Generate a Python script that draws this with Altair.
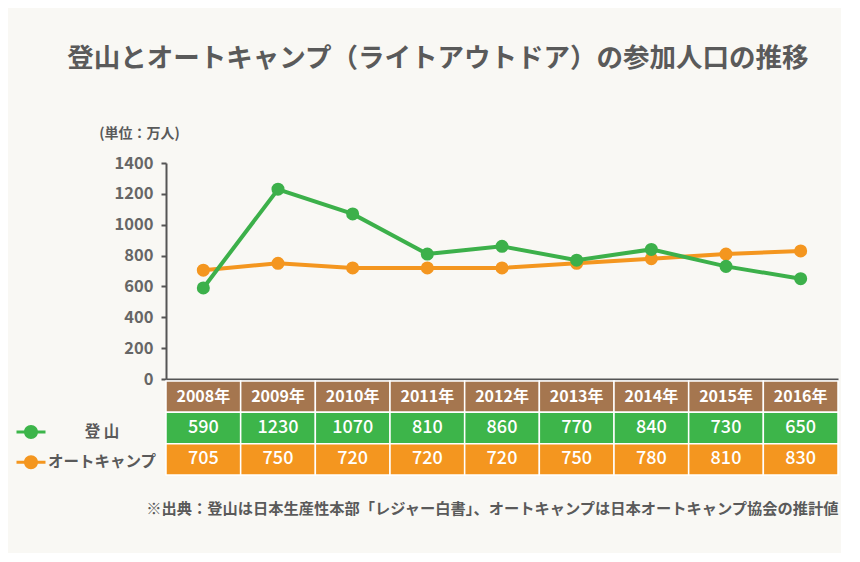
import altair as alt
import pandas as pd

years = ["2008", "2009", "2010", "2011", "2012", "2013", "2014", "2015", "2016"]
tozan = [590, 1230, 1070, 810, 860, 770, 840, 730, 650]
autocamp = [705, 750, 720, 720, 720, 750, 780, 810, 830]
series_names = ["登山", "オートキャンプ"]
y_ticks = [0, 200, 400, 600, 800, 1000, 1200, 1400]

title_text = "登山とオートキャンプ（ライトアウトドア）の参加人口の推移"
unit_text = "(単位：万人)"
source_text = "※出典：登山は日本生産性本部「レジャー白書」、オートキャンプは日本オートキャンプ協会の推計値"

GREEN = "#3cb04a"
ORANGE = "#f4961f"
BROWN = "#a5764f"
BG = "#f9f8f4"
GRAY = "#5a5a5a"
FONT = "Noto Sans CJK JP"

rows = []
for y, a, b in zip(years, tozan, autocamp):
    rows.append({"year": y, "series": series_names[0], "value": a})
    rows.append({"year": y, "series": series_names[1], "value": b})
df = pd.DataFrame(rows)

trows = []
for y, a, b in zip(years, tozan, autocamp):
    trows.append({"year": y, "kind": "header", "label": y + "年"})
    trows.append({"year": y, "kind": series_names[0], "label": str(a)})
    trows.append({"year": y, "kind": series_names[1], "label": str(b)})
tdf = pd.DataFrame(trows)

color_scale = alt.Scale(domain=series_names, range=[GREEN, ORANGE])
legend_path = ("M-1.45,-0.15H1.45V0.15H-1.45Z "
               "M0.7,0A0.7,0.7 0 1 1 -0.7,0A0.7,0.7 0 1 1 0.7,0Z")
legend = alt.Legend(
    orient="none", legendX=-145, legendY=259, title=None, values=series_names,
    symbolType=legend_path, symbolSize=400, symbolStrokeWidth=0, symbolOpacity=1,
    labelAlign="center", labelOffset=61, labelFontSize=15.5, labelFont=FONT,
    labelFontWeight="bold", labelColor=GRAY, rowPadding=11.3, labelLimit=200,
    labelExpr="datum.label == '登山' ? '登 山' : datum.label",
)

x_enc = alt.X("year:N", sort=years, scale=alt.Scale(type="point", padding=0.5),
              axis=alt.Axis(labels=False, ticks=False, tickSize=0, labelPadding=0, title=None,
                            domainColor="#555555", domainWidth=2))
y_enc = alt.Y("value:Q", scale=alt.Scale(domain=[0, 1400], nice=False),
              axis=alt.Axis(values=y_ticks, format="d", title=unit_text, titleAngle=0,
                            titleX=-27, titleY=-30,
                            titleAlign="center", titleBaseline="middle", titleFont=FONT,
                            titleFontSize=14, titleFontWeight="bold", titleColor=GRAY,
                            labelFont=FONT, labelFontSize=16.5, labelFontWeight="bold",
                            labelColor="#666666", labelPadding=8, tickSize=5, tickWidth=2,
                            tickColor="#555555", domainColor="#555555", domainWidth=2,
                            grid=False))

base = alt.Chart(df)
layers = []
for s in [series_names[1], series_names[0]]:
    sub = base.transform_filter(alt.datum.series == s)
    layers.append(sub.mark_line(strokeWidth=4))
    layers.append(sub.mark_point(filled=True, size=170, opacity=1))

line_chart = alt.layer(*layers).encode(
    x=x_enc, y=y_enc,
    color=alt.Color("series:N", scale=color_scale, legend=None),
).properties(width=672, height=216)

tbase = alt.Chart(tdf)
tx = alt.X("year:N", sort=years, scale=alt.Scale(paddingInner=0, paddingOuter=0),
           axis=alt.Axis(labels=False, ticks=False, domain=False, title=source_text,
                         titleAnchor="end", titleFont=FONT, titleFontSize=15.25,
                         titleFontWeight="bold", titleColor=GRAY, titlePadding=26))
ty = alt.Y("kind:N", sort=["header"] + series_names,
           scale=alt.Scale(paddingInner=0, paddingOuter=0), axis=None)
cells = tbase.mark_rect(stroke="#ffffff", strokeWidth=1.5).encode(
    x=tx, y=ty,
    fill=alt.Fill("kind:N", scale=alt.Scale(domain=["header"] + series_names,
                                            range=[BROWN, "#3db54a", ORANGE]), legend=legend))
htext = tbase.transform_filter(alt.datum.kind == "header").mark_text(
    color="white", font=FONT, fontSize=16, fontWeight="bold").encode(x=tx, y=ty, text="label:N")
vtext = tbase.transform_filter(alt.datum.kind != "header").mark_text(
    color="white", font=FONT, fontSize=18, fontWeight=500).encode(x=tx, y=ty, text="label:N")
table = alt.layer(cells, htext, vtext).properties(width=672, height=94)

chart = alt.vconcat(line_chart, table, spacing=2, bounds="flush").properties(
    title=alt.TitleParams(title_text, font=FONT, fontSize=26.5, fontWeight="bold", color=GRAY,
                          anchor="middle", offset=54, dx=8),
    padding={"left": 13, "top": 37, "right": 2, "bottom": 36},
    background=BG,
).configure_view(stroke=None)

chart.save("out.html", embed_options={"renderer": "svg", "actions": False})
